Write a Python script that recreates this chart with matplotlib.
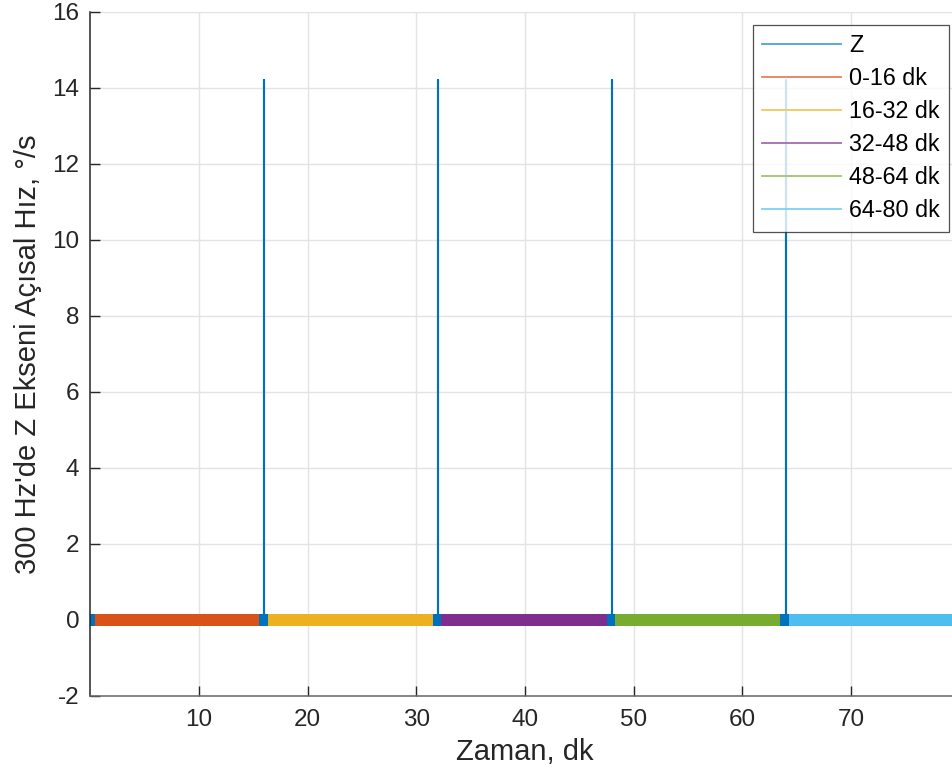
import numpy as np
import matplotlib.pyplot as plt
from matplotlib.lines import Line2D

plt.rcParams['font.family'] = ['Liberation Sans', 'DejaVu Sans']
plt.rcParams['axes.unicode_minus'] = False

# Z ekseni verisi (dk)
t_start, t_end = 0.0, 80.0
spike_times = [16, 32, 48, 64]
spike_peak = 14.2
noise_low, noise_high = -0.15, 0.15

# renkli bolumler
seg_labels = ['0-16 dk', '16-32 dk', '32-48 dk', '48-64 dk', '64-80 dk']
seg_starts = [0.45, 16.35, 32.3, 48.3, 64.3]
seg_ends = [15.5, 31.5, 47.5, 63.5, 80.0]
seg_colors = ['#D95319', '#EDB120', '#7E2F8E', '#77AC30', '#4DBEEE']
z_color = '#0072BD'

xticks = [10, 20, 30, 40, 50, 60, 70]
yticks = [-2, 0, 2, 4, 6, 8, 10, 12, 14, 16]

fig = plt.figure(figsize=(9.52, 7.82), dpi=100)
ax = fig.add_axes([0.0949, 0.110, 0.9132, 0.8747])

# Z sinyali: taban bandi + sivri uclar
ax.fill_between([t_start, t_end], noise_low, noise_high, color=z_color,
                lw=0, zorder=2)
zx, zy = [t_start], [0]
for s in spike_times:
    zx += [s, s, s]
    zy += [0, spike_peak, 0]
zx.append(t_end)
zy.append(0)
ax.plot(zx, zy, color=z_color, lw=1.5, zorder=2)

for a, b, c in zip(seg_starts, seg_ends, seg_colors):
    ax.fill_between([a, b], noise_low, noise_high, color=c, lw=0, zorder=3)

handles = [Line2D([], [], color='#4DA1D8', lw=1.3)]
legend_cols = ['#E8805A', '#F3C85C', '#A46BB0', '#9DC76A', '#7FD0F2']
for c in legend_cols:
    handles.append(Line2D([], [], color=c, lw=1.3))
leg = ax.legend(handles, ['Z'] + seg_labels, loc='upper right',
                bbox_to_anchor=(0.9877, 0.981), fontsize=16.8, frameon=True,
                fancybox=False, handlelength=3.4, handletextpad=0.33,
                labelspacing=0.43, borderpad=0.4, borderaxespad=0)
leg.get_frame().set_edgecolor('#262626')
leg.get_frame().set_linewidth(0.9)
leg.set_zorder(5)

ax.set_xlim(t_start, t_end)
ax.set_ylim(-2, 16)
ax.set_xticks(xticks)
ax.set_yticks(yticks)
ax.grid(True, color='#E3E3E3', lw=1)
ax.set_axisbelow(True)
ax.tick_params(direction='in', length=7, width=1, colors='#262626',
               labelsize=17.5)
ax.tick_params(axis='x', pad=9.5)
ax.tick_params(axis='y', pad=8)
for side in ['top', 'right']:
    ax.spines[side].set_visible(False)
ax.spines['left'].set_color('#262626')
ax.spines['bottom'].set_color('#666666')
ax.spines['left'].set_linewidth(1.1)
ax.spines['bottom'].set_linewidth(1.1)

ax.set_xlabel('Zaman, dk', fontsize=21, color='#262626', labelpad=5)
ax.set_ylabel("300 Hz'de Z Ekseni Açısal Hız, °/s", fontsize=21,
              color='#262626', labelpad=7)

fig.savefig('out.png', dpi=100)
